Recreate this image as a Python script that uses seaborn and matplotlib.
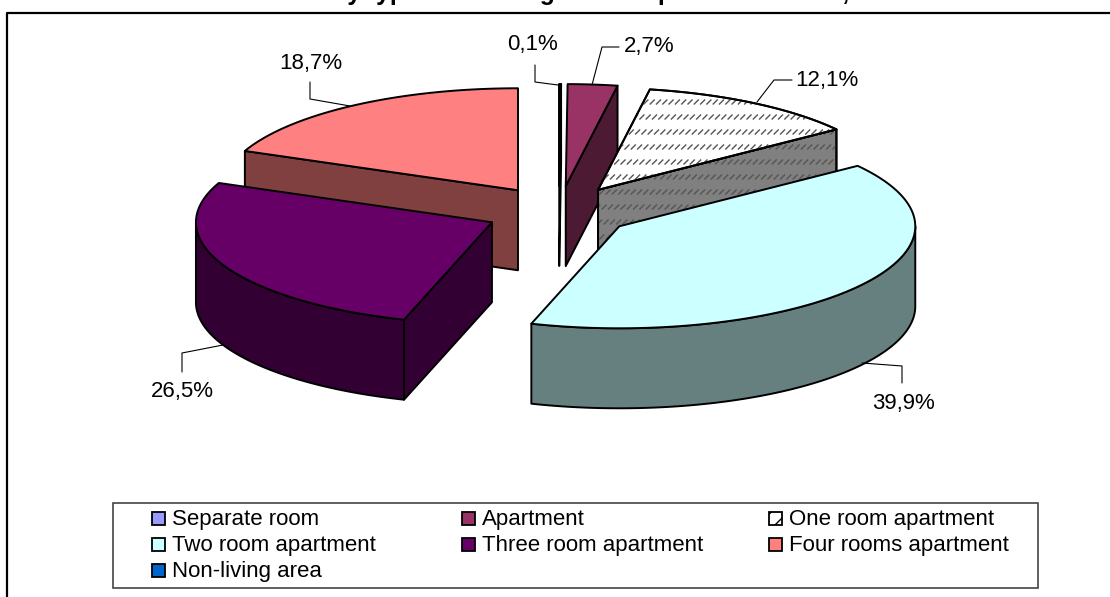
import numpy as np
import matplotlib as mpl
import matplotlib.pyplot as plt
from matplotlib.collections import LineCollection
from matplotlib.patches import Polygon, Rectangle
import seaborn as sns

sns.set_theme(style='white')
plt.rcParams['font.family'] = ['Liberation Sans', 'DejaVu Sans']

# Data
categories = ['Separate room', 'Apartment', 'One room apartment', 'Two room apartment',
              'Three room apartment', 'Four rooms apartment', 'Non-living area']
values = [0.1, 2.7, 12.1, 39.9, 26.5, 18.7, 0.0]
value_labels = ['0,1%', '2,7%', '12,1%', '39,9%', '26,5%', '18,7%']
colors = ['#9999FF', '#993366', '#FFFFFF', '#CCFFFF', '#660066', '#FF8080', '#0066CC']
title = 'Distribution by type of dwelling in the republic as whole, %'

# pie geometry, in pixels of the figure
cx, cy = 559, 211.5
rx, ry = 296, 102
depth = 80
explode = 0.25
FS = 16

palette = sns.color_palette(colors)
fig = plt.figure(figsize=(11.10, 5.97), dpi=100)
ax = fig.add_axes([0, 0, 1, 1])
ax.set_xlim(0, 1110)
ax.set_ylim(597, 0)
ax.axis('off')


def rim(angle):
    return np.column_stack([rx * np.sin(angle), -ry * np.cos(angle)])


def add_hatch(patch):
    # dashed diagonal fill of the one room slice
    segs = []
    for i, y in enumerate(np.arange(72, 300, 15)):
        for x in np.arange(560 + (i % 3) * 2, 900, 6.3):
            segs.append([(x - 2.5, y + 2.5), (x + 2.5, y - 2.5)])
    lc = LineCollection(segs, colors='#555555', linewidths=1.0, zorder=patch.get_zorder())
    ax.add_collection(lc)
    lc.set_clip_path(patch)


def add_face(pts, color, z, hatch=False):
    face = Polygon(pts, closed=True, facecolor=color, edgecolor='black', linewidth=1.4,
                   joinstyle='round', zorder=z)
    ax.add_patch(face)
    if hatch:
        add_hatch(face)
        outline = Polygon(pts, closed=True, fill=False, edgecolor='black', linewidth=1.4,
                          joinstyle='round', zorder=z)
        ax.add_patch(outline)


def draw_slice(start, end, color, z, hatch=False):
    mid = (start + end) / 2
    apex = np.array([cx + explode * rx * np.sin(mid), cy - explode * ry * np.cos(mid)])
    arc = np.linspace(start, end, 90)
    pts = apex + rim(arc)
    dark = tuple(c * 0.5 for c in color)
    down = np.array([0, depth])

    # radial walls that face the viewer
    for tip, visible in [(pts[0], tip_faces(pts[0] - apex, 1)), (pts[-1], tip_faces(pts[-1] - apex, -1))]:
        if visible:
            add_face([apex, tip, tip + down, apex + down], dark, z, hatch)

    # outer wall, only the front half of the circle shows
    lo, hi = max(start, np.pi / 2), min(end, 3 * np.pi / 2)
    if hi > lo:
        front = apex + rim(np.linspace(lo, hi, 90))
        add_face(np.vstack([front, (front + down)[::-1]]), dark, z)

    add_face(np.vstack([apex, pts]), color, z + 0.5, hatch)


def tip_faces(vec, side):
    # side=1: first radial edge, walked outwards; side=-1: last edge, walked back to the apex
    return vec[0] * side < 0


fractions = np.array(values) / sum(values)
edges = np.concatenate([[0], np.cumsum(fractions)]) * 2 * np.pi

# back to front, as in the reference
for i, z in [(0, 1), (1, 2), (2, 3), (5, 4), (3, 5), (4, 6)]:
    draw_slice(edges[i], edges[i + 1], palette[i], z, hatch=(i == 2))

# chart border, cut by the image on the right and at the bottom
ax.plot([7, 7, 1110], [597, 13, 13], color='black', linewidth=1.6, zorder=10, clip_on=True)

# clipped title, only the descenders are inside the image
ax.text(187, 0, title, fontsize=17.8, fontweight='bold', color='black', va='baseline', ha='left')

# value labels with leader lines
label_pos = [(533, 44.5), (649, 46.5), (827, 80.5), (903, 403.5), (182, 391.5), (311, 63.5)]
leaders = [
    [(535, 65), (535, 82), (558, 85)],
    [(592, 85), (602, 47), (619, 47)],
    [(757, 102), (774, 80), (792, 80)],
    [(862, 363), (902, 366), (902, 383)],
    [(223, 345), (182, 353), (182, 372)],
    [(310, 82), (310, 99), (350, 106)],
]
for lab, pos, line in zip(value_labels, label_pos, leaders):
    ax.text(pos[0], pos[1], lab, fontsize=FS, color='black', ha='center', va='center', zorder=12)
    xs, ys = zip(*line)
    ax.plot(xs, ys, color='black', linewidth=0.8, zorder=12)

# legend, filled row by row
ax.add_patch(Rectangle((113, 503), 925, 85, facecolor='white', edgecolor='#444444', linewidth=1.2, zorder=8))
col_x = [151.5, 461.5, 769]
row_y = [518.5, 544.5, 570]
for i, name in enumerate(categories):
    x = col_x[i % 3]
    y = row_y[i // 3]
    ax.add_patch(Rectangle((x, y - 6.5), 13, 13, facecolor=palette[i], edgecolor='black',
                           linewidth=1.3, hatch='//' if i == 2 else None, zorder=9))
    ax.text(x + 20, y + 1, name, fontsize=FS, color='black', ha='left', va='center', zorder=9)

plt.savefig('out.png', dpi=100)
plt.close()
